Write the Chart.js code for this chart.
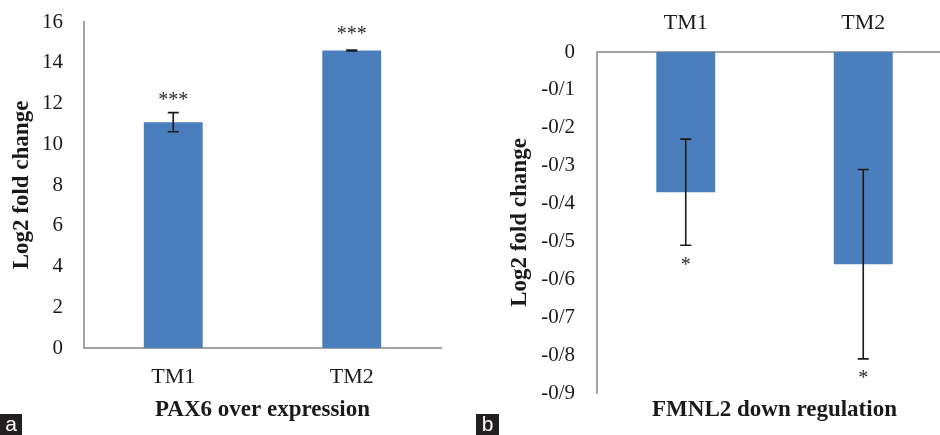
<!DOCTYPE html>
<html>
<head>
<meta charset="utf-8">
<script src="https://cdn.jsdelivr.net/npm/chart.js@4/dist/chart.umd.min.js"></script>
<style>
  html, body { margin: 0; padding: 0; background: #fff; overflow: hidden; }
  #page { position: relative; width: 940px; height: 435px; overflow: hidden; }
  .pane { position: absolute; top: 0; height: 435px; }
  .tag {
    position: absolute; bottom: 0; height: 21px; background: #231f20; color: #fff;
    font: 21px "Liberation Sans", Arial, sans-serif; line-height: 20px; text-align: center;
  }
</style>
</head>
<body>
<div id="page">
  <div class="pane" style="left:0;width:470px"><canvas id="chartA" width="470" height="435"></canvas></div>
  <div class="pane" style="left:470px;width:482px"><canvas id="chartB" width="482" height="435"></canvas></div>
  <div class="tag" style="left:0;width:22px">a</div>
  <div class="tag" style="left:476px;width:23px">b</div>
</div>
<script>
// data
const categories = ["TM1", "TM2"];

const paxValues = [11.08, 14.6];
const paxErrors = [0.47, 0.02];
const paxStars = ["***", "***"];
const paxStarY = [12.3, 15.57];
const paxTicks = ["0", "2", "4", "6", "8", "10", "12", "14", "16"];

const fmnlValues = [-0.37, -0.56];
const fmnlErrors = [0.14, 0.25];
const fmnlStars = ["*", "*"];
const fmnlStarY = [-0.554, -0.852];
const fmnlTicks = ["0", "-0/1", "-0/2", "-0/3", "-0/4", "-0/5", "-0/6", "-0/7", "-0/8", "-0/9"];

const barColor = "#4a7ebd";
const axisColor = "#a3a3a3";
const textColor = "#1a1a1a";
const serif = "'Liberation Serif', 'Times New Roman', serif";

// error bars + significance stars, drawn through the scales
const errorBars = {
  id: "errorBars",
  afterDatasetsDraw(chart, args, opts) {
    const ctx = chart.ctx;
    const y = chart.scales.y;
    const meta = chart.getDatasetMeta(0);
    ctx.save();
    meta.data.forEach((bar, i) => {
      const v = opts.values[i], e = opts.errors[i];
      const y1 = y.getPixelForValue(v + e), y2 = y.getPixelForValue(v - e);
      ctx.strokeStyle = "#1a1a1a";
      ctx.lineWidth = 1.6;
      ctx.beginPath();
      ctx.moveTo(bar.x, y1); ctx.lineTo(bar.x, y2);
      ctx.moveTo(bar.x - 5.5, y1); ctx.lineTo(bar.x + 5.5, y1);
      ctx.moveTo(bar.x - 5.5, y2); ctx.lineTo(bar.x + 5.5, y2);
      ctx.stroke();
      ctx.fillStyle = "#2a2a2a";
      ctx.font = "20px " + serif;
      ctx.textAlign = "center";
      ctx.textBaseline = "middle";
      ctx.fillText(opts.stars[i], bar.x, y.getPixelForValue(opts.starY[i]) + 3.5);
    });
    ctx.restore();
  }
};

Chart.defaults.animation = false;
Chart.defaults.color = textColor;

new Chart(document.getElementById("chartA"), {
  type: "bar",
  data: {
    labels: categories,
    datasets: [{ data: paxValues, backgroundColor: barColor, barPercentage: 0.33, categoryPercentage: 1 }]
  },
  plugins: [errorBars],
  options: {
    responsive: false,
    layout: { padding: { top: 0, right: 29, left: 0, bottom: 0 } },
    plugins: {
      legend: { display: false },
      tooltip: { enabled: false },
      errorBars: { values: paxValues, errors: paxErrors, stars: paxStars, starY: paxStarY }
    },
    scales: {
      x: {
        grid: { display: false, drawTicks: false },
        border: { display: true, color: axisColor, width: 2 },
        ticks: { font: { family: serif, size: 22 }, padding: 16, color: textColor },
        title: {
          display: true, text: "PAX6 over expression",
          font: { family: serif, size: 23, weight: "bold" }, padding: { top: 0, bottom: 11 }, color: textColor
        },
        afterFit: s => { s.height = 87; }
      },
      y: {
        min: 0, max: 16,
        grid: { display: false, drawTicks: false },
        border: { display: true, color: axisColor, width: 2 },
        ticks: {
          stepSize: 2, padding: 21, color: textColor,
          font: { family: serif, size: 21 },
          callback: v => paxTicks[Math.round(v / 2)]
        },
        title: {
          display: true, text: "Log2 fold change",
          font: { family: serif, size: 23, weight: "bold" }, padding: { top: 8, bottom: 0 }, color: textColor
        },
        afterFit: s => { s.width = 84; s.paddingTop = 22; s.paddingBottom = 12; }
      }
    }
  }
});

new Chart(document.getElementById("chartB"), {
  type: "bar",
  data: {
    labels: categories,
    datasets: [{ data: fmnlValues, backgroundColor: barColor, barPercentage: 0.332, categoryPercentage: 1 }]
  },
  plugins: [errorBars],
  options: {
    responsive: false,
    layout: { padding: 0 },
    plugins: {
      legend: { display: false },
      tooltip: { enabled: false },
      errorBars: { values: fmnlValues, errors: fmnlErrors, stars: fmnlStars, starY: fmnlStarY }
    },
    scales: {
      x: {
        position: "top",
        grid: { display: false, drawTicks: false },
        border: { display: true, color: axisColor, width: 2 },
        ticks: { font: { family: serif, size: 22 }, padding: 16, color: textColor },
        afterFit: s => { s.height = 52; }
      },
      x2: {
        type: "category",
        labels: categories,
        position: "bottom",
        grid: { display: false, drawTicks: false },
        border: { display: false },
        ticks: { display: false },
        title: {
          display: true, text: "FMNL2 down regulation",
          font: { family: serif, size: 23, weight: "bold" }, padding: { top: 0, bottom: 11 }, color: textColor
        },
        afterFit: s => { s.height = 42; }
      },
      y: {
        min: -0.9, max: 0,
        grid: { display: false, drawTicks: false },
        border: { display: true, color: axisColor, width: 2 },
        ticks: {
          stepSize: 0.1, padding: 22, color: textColor,
          font: { family: serif, size: 21 },
          callback: v => fmnlTicks[Math.round(-v * 10)]
        },
        title: {
          display: true, text: "Log2 fold change",
          font: { family: serif, size: 23, weight: "bold" }, padding: { top: 36, bottom: 0 }, color: textColor
        },
        afterFit: s => { s.width = 127; s.paddingTop = 12; s.paddingBottom = 12; }
      }
    }
  }
});
</script>
</body>
</html>
